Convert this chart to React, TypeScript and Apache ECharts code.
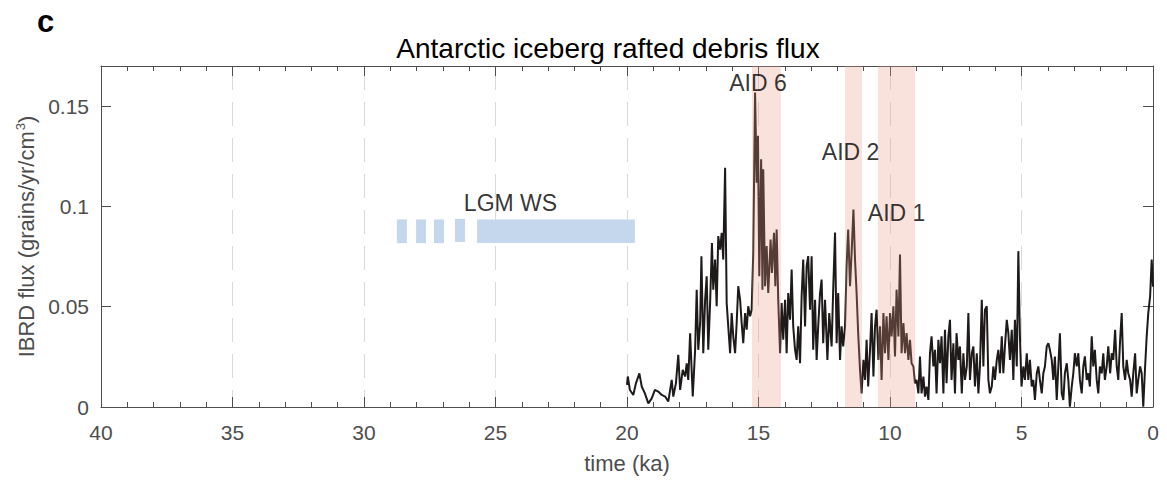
import { useEffect, useRef } from 'react';
import * as echarts from 'echarts';

const FONT = '"Liberation Sans", Arial, Helvetica, sans-serif';
const AXIS = '#4d4d4d';
const TICK = '#4d4d4d';

// IBRD flux record: [age (ka), flux (grains/yr/cm3)]
const ibrdDeglacial: [number, number][] = [
  [20.0,0.011],[19.97,0.0152],[19.89,0.0085],[19.76,0.006],[19.66,0.0118],[19.53,0.0168],[19.44,0.0102],[19.32,0.0068],
  [19.19,0.0018],[19.06,0.0043],[18.94,0.0085],[18.81,0.0077],[18.68,0.006],[18.55,0.0052],[18.43,0.0027],[18.30,0.0135],
  [18.24,0.0052],[18.14,0.0118],[18.05,0.026],[17.98,0.0085],[17.88,0.0185],[17.79,0.0152],[17.73,0.0218],[17.67,0.0135],
  [17.60,0.0368],[17.50,0.0052],[17.41,0.0285],[17.35,0.0585],[17.29,0.0285],[17.22,0.0418],[17.17,0.0752],[17.10,0.0268],
  [17.03,0.0535],[16.97,0.0652],[16.91,0.0285],[16.84,0.0518],[16.77,0.0818],[16.72,0.0585],[16.65,0.0735],[16.59,0.0502],
  [16.53,0.0852],[16.46,0.0785],[16.40,0.0868],[16.34,0.0735],[16.27,0.1193],[16.21,0.0518],[16.15,0.0402],[16.08,0.0268],
  [16.02,0.0468],[15.96,0.0352],[15.89,0.0268],[15.83,0.0418],[15.77,0.0602],[15.70,0.0535],[15.64,0.0418],[15.58,0.0318],
  [15.51,0.0468],[15.45,0.0385],[15.39,0.0502],[15.32,0.0452],[15.26,0.0485],
];
const ibrdEarlyHolocene: [number, number][] = [
  [15.20,0.0768],[15.13,0.1568],[15.07,0.1118],[15.02,0.1352],[14.97,0.0652],[14.90,0.1235],[14.85,0.0585],[14.82,0.1185],
  [14.75,0.0602],[14.69,0.0802],[14.63,0.0568],[14.54,0.0835],[14.49,0.0668],[14.41,0.0868],[14.36,0.0602],[14.31,0.0885],
  [14.25,0.0535],[14.18,0.0268],[14.12,0.0518],[14.06,0.0335],[13.99,0.0535],[13.93,0.0268],[13.87,0.0568],[13.80,0.0435],
  [13.74,0.0685],[13.68,0.0402],[13.61,0.0285],[13.55,0.0235],[13.49,0.0402],[13.42,0.0218],[13.36,0.0552],[13.30,0.0735],
  [13.23,0.0402],[13.17,0.0702],[13.11,0.0752],[13.04,0.0485],[12.98,0.0752],[12.92,0.0285],[12.85,0.0535],[12.79,0.0235],
  [12.73,0.0402],[12.66,0.0568],[12.60,0.0635],[12.54,0.0318],[12.47,0.0535],[12.38,0.0235],[12.31,0.0468],[12.22,0.0302],
  [12.16,0.0585],[12.09,0.087],[12.03,0.0318],[11.97,0.0568],[11.90,0.0235],[11.84,0.0402],[11.78,0.0302],[11.71,0.0402],
  [11.65,0.0702],[11.59,0.0885],[11.52,0.0602],[11.46,0.0768],[11.39,0.0985],[11.33,0.0735],[11.27,0.0568],[11.21,0.0368],
  [11.14,0.0185],[11.08,0.0068],[11.01,0.0235],[10.95,0.0135],[10.89,0.0335],[10.83,0.0102],[10.76,0.0285],[10.70,0.0468],
  [10.63,0.0152],[10.57,0.0402],[10.51,0.0485],[10.44,0.0235],[10.38,0.0402],[10.32,0.0135],
];
const ibrdMidHolocene: [number, number][] = [
  [10.25,0.0468],[10.19,0.0268],[10.13,0.0452],[10.06,0.0235],[10.0,0.0468],[9.94,0.0352],[9.87,0.0502],[9.81,0.0252],
  [9.75,0.0585],[9.68,0.0352],[9.62,0.076],[9.56,0.0268],[9.49,0.0418],[9.43,0.0268],[9.37,0.0368],[9.30,0.0235],
  [9.24,0.0335],[9.18,0.0218],[9.11,0.0202],[9.05,0.0118],[8.99,0.0135],[8.92,0.0068],[8.86,0.0252],[8.80,0.0068],
  [8.73,0.0152],[8.67,0.0052],[8.61,0.0102],[8.54,0.0035],[8.48,0.0268],[8.42,0.0352],[8.35,0.0202],[8.29,0.0285],
  [8.23,0.0068],[8.16,0.0335],[8.10,0.0218],[8.04,0.0352],[7.97,0.0068],[7.91,0.0385],[7.85,0.0118],[7.78,0.0352],
  [7.72,0.0435],[7.66,0.0135],[7.59,0.0318],[7.53,0.0068],[7.47,0.0368],[7.40,0.0235],[7.34,0.0302],[7.27,0.0068],
  [7.21,0.0268],[7.15,0.0135],[7.08,0.0202],[7.02,0.0468],[6.96,0.0135],[6.89,0.0268],[6.83,0.0302],[6.77,0.0102],
  [6.70,0.0268],[6.64,0.0068],[6.58,0.0202],[6.51,0.0535],[6.45,0.0202],[6.39,0.0485],[6.32,0.0502],[6.26,0.0135],
  [6.20,0.0068],[6.13,0.0102],[6.07,0.0202],[6.01,0.0135],[5.94,0.0235],[5.88,0.0285],[5.82,0.0168],[5.75,0.0352],
  [5.69,0.0168],[5.63,0.0302],[5.56,0.0435],[5.50,0.0368],[5.44,0.0235],[5.37,0.0385],[5.31,0.0135],[5.25,0.0435],
  [5.18,0.0202],[5.12,0.0777],[5.06,0.0352],
];
const ibrdLateHolocene: [number, number][] = [
  [5.0,0.0102],[4.93,0.0202],[4.87,0.0135],[4.80,0.0268],[4.74,0.0135],[4.68,0.0235],[4.61,0.0102],[4.55,0.0135],
  [4.49,0.0035],[4.42,0.0168],[4.36,0.0202],[4.30,0.0135],[4.23,0.0068],[4.17,0.0168],[4.11,0.0202],[4.04,0.0302],
  [3.98,0.0318],[3.92,0.0285],[3.85,0.0235],[3.79,0.0135],[3.73,0.0252],[3.66,0.0035],[3.60,0.0202],[3.54,0.0368],
  [3.47,0.0068],[3.41,0.0035],[3.35,0.0168],[3.28,0.0218],[3.22,0.0135],[3.16,0.0002],[3.09,0.0102],[3.03,0.0168],
  [2.97,0.0268],[2.90,0.0202],[2.84,0.0268],[2.78,0.0135],[2.71,0.0068],[2.65,0.0202],[2.59,0.0252],[2.52,0.0135],
  [2.46,0.0168],[2.40,0.0102],[2.33,0.0352],[2.27,0.0202],[2.21,0.0285],[2.14,0.0135],[2.08,0.0068],[2.02,0.0202],
  [1.95,0.0168],[1.89,0.0268],[1.83,0.0135],[1.76,0.0202],[1.70,0.0302],[1.63,0.0168],[1.57,0.0268],[1.51,0.0235],
  [1.44,0.0385],[1.38,0.0202],[1.32,0.0135],[1.25,0.0335],[1.19,0.0468],[1.13,0.0202],[1.06,0.0135],[1.0,0.0235],
  [0.94,0.0168],[0.87,0.0135],[0.81,0.0052],[0.75,0.0168],[0.68,0.0268],[0.62,0.0068],[0.56,0.0135],[0.49,0.0202],
  [0.43,0.0168],[0.37,0.0002],[0.30,0.0202],[0.24,0.0352],[0.18,0.0468],[0.11,0.0552],[0.05,0.0735],[0.0,0.06],
];

// Antarctic Iceberg Discharge events (ka)
const aidNames = ['AID 6', 'AID 2', 'AID 1'];
const aidStart = [15.25, 11.71, 10.46];
const aidEnd = [14.15, 11.06, 9.05];
const aidLabelAge = [15.02, 11.5, 9.75];
const aidLabelFlux = [0.1617, 0.127, 0.0968];

// LGM Weddell Sea bars (ka, flux units)
const lgmStart = [28.75, 28.02, 27.34, 26.54, 25.70];
const lgmEnd = [28.37, 27.64, 26.96, 26.16, 19.70];
const lgmBottom = [0.0817, 0.0817, 0.0817, 0.0823, 0.0817];
const lgmTop = [0.0935, 0.0935, 0.0935, 0.0938, 0.0935];
const lgmLabel = { name: 'LGM WS', age: 24.43, flux: 0.1018 };

const xTicks = { min: 0, max: 40, interval: 5 };
const yTicks = { min: 0, max: 0.17, interval: 0.05 };

function rectItem(fill: string) {
  return (params: any, api: any) => {
    const p1 = api.coord([api.value(0), api.value(3)]);
    const p2 = api.coord([api.value(1), api.value(2)]);
    return {
      type: 'rect',
      shape: {
        x: Math.min(p1[0], p2[0]),
        y: Math.min(p1[1], p2[1]),
        width: Math.abs(p2[0] - p1[0]),
        height: Math.abs(p2[1] - p1[1]),
      },
      style: { fill },
    };
  };
}

export default function App() {
  const ref = useRef<HTMLDivElement>(null);
  useEffect(() => {
    const chart = echarts.init(ref.current!, null, { renderer: 'svg' });
    const record = [...ibrdDeglacial, ...ibrdEarlyHolocene, ...ibrdMidHolocene, ...ibrdLateHolocene];
    const xCommon = {
      type: 'value',
      min: xTicks.min,
      max: xTicks.max,
      interval: xTicks.interval,
      inverse: true,
      axisLine: { show: true, onZero: false, lineStyle: { color: AXIS, width: 1 } },
      axisTick: { show: true, inside: true, length: 10, lineStyle: { color: AXIS, width: 1 } },
      minorTick: { show: true, splitNumber: 5, length: 5, lineStyle: { color: AXIS, width: 1 } },
    };
    const yCommon = {
      type: 'value',
      min: yTicks.min,
      max: yTicks.max,
      interval: yTicks.interval,
      axisLine: { show: true, onZero: false, lineStyle: { color: AXIS, width: 1 } },
      axisTick: { show: true, inside: true, length: 10, lineStyle: { color: AXIS, width: 1 } },
      splitLine: { show: false },
    };
    chart.setOption({
      animation: false,
      backgroundColor: '#ffffff',
      textStyle: { fontFamily: FONT },
      grid: { left: 101, right: 14, top: 66, bottom: 73, containLabel: false },
      xAxis: [
        {
          ...xCommon,
          position: 'bottom',
          axisLabel: { fontSize: 21, color: TICK, margin: 15, fontFamily: FONT },
          splitLine: { show: true, lineStyle: { color: '#dadada', width: 1, type: [24, 12] } },
          name: 'time (ka)',
          nameLocation: 'middle',
          nameGap: 45,
          nameTextStyle: { fontSize: 22, color: TICK, fontFamily: FONT },
        },
        {
          ...xCommon,
          position: 'top',
          axisLabel: { show: false },
          splitLine: { show: false },
        },
      ],
      yAxis: [
        {
          ...yCommon,
          position: 'left',
          axisLabel: { fontSize: 21, color: TICK, margin: 12, fontFamily: FONT, showMaxLabel: false },
          name: 'IBRD flux (grains/yr/cm{sup|3})',
          nameLocation: 'middle',
          nameGap: 60,
          nameTextStyle: {
            fontSize: 22,
            color: TICK,
            fontFamily: FONT,
            rich: { sup: { fontSize: 13, color: TICK, fontFamily: FONT, verticalAlign: 'top', padding: [0, 0, 12, 1] } },
          },
        },
        {
          ...yCommon,
          position: 'right',
          axisLabel: { show: false },
        },
      ],
      graphic: [
        {
          type: 'text',
          x: 37,
          y: 21,
          style: { text: 'c', font: `bold 31px ${FONT}`, fill: '#000', textAlign: 'left', textVerticalAlign: 'middle', verticalAlign: 'middle' },
        },
        {
          type: 'text',
          x: 608,
          y: 48,
          style: {
            text: 'Antarctic iceberg rafted debris flux',
            font: `28px ${FONT}`,
            fill: '#000',
            textAlign: 'center',
            textVerticalAlign: 'middle',
            verticalAlign: 'middle',
          },
        },
      ],
      series: [
        {
          type: 'custom',
          silent: true,
          z: 1,
          renderItem: rectItem('#c4d7ec'),
          encode: { x: [0, 1], y: [2, 3] },
          data: lgmStart.map((s, i) => [s, lgmEnd[i], lgmBottom[i], lgmTop[i]]),
        },
        {
          type: 'line',
          silent: true,
          z: 2,
          showSymbol: false,
          symbol: 'none',
          data: record,
          lineStyle: { color: '#1e1a1a', width: 2 },
        },
        {
          type: 'custom',
          silent: true,
          z: 3,
          renderItem: rectItem('rgba(230,151,126,0.28)'),
          encode: { x: [0, 1], y: [2, 3] },
          data: aidStart.map((s, i) => [s, aidEnd[i], yTicks.min, yTicks.max]),
        },
        {
          type: 'scatter',
          silent: true,
          z: 4,
          symbolSize: 0,
          label: {
            show: true,
            position: 'inside',
            formatter: '{b}',
            fontSize: 23,
            color: '#000000',
            fontFamily: FONT,
          },
          data: [
            ...aidNames.map((n, i) => ({ name: n, value: [aidLabelAge[i], aidLabelFlux[i]] })),
            { name: lgmLabel.name, value: [lgmLabel.age, lgmLabel.flux] },
          ],
        },
      ],
    });
    return () => chart.dispose();
  }, []);
  return <div ref={ref} style={{ position: 'absolute', left: 0, top: 0, width: 1167, height: 480 }} />;
}
